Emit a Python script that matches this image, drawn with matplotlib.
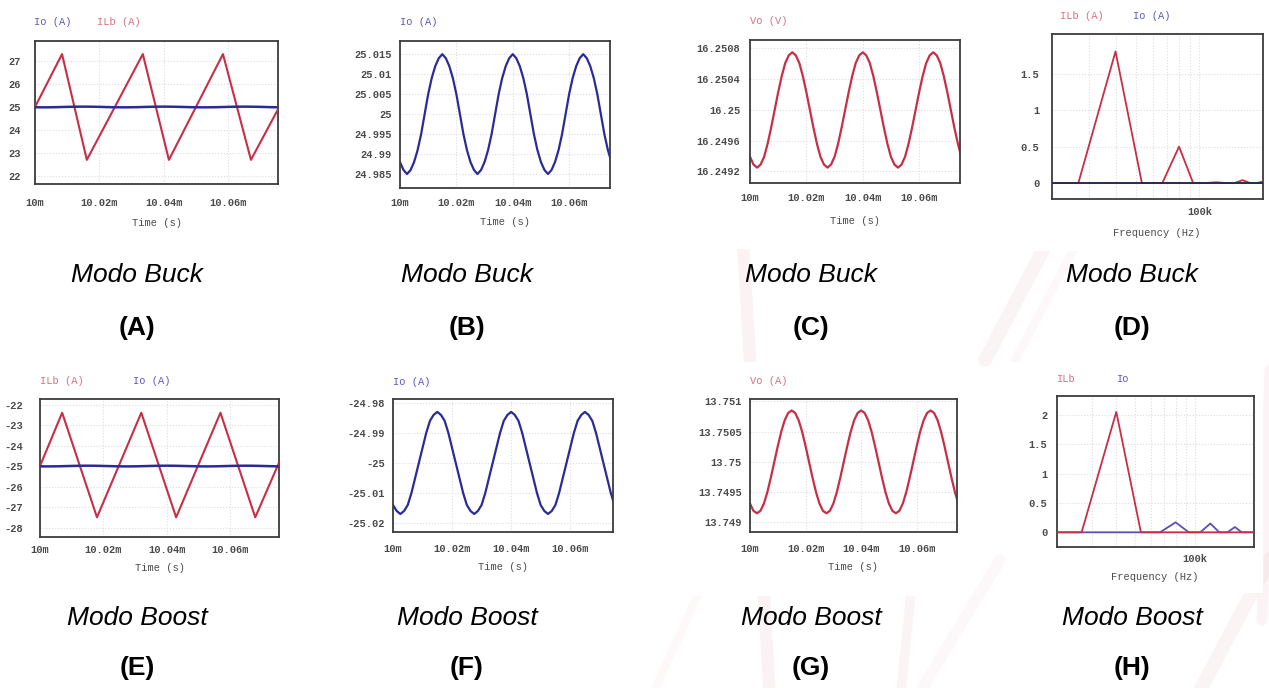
"""Buck/boost converter ripple waveforms and inductor-current spectra (8 scope panels)."""

import matplotlib
matplotlib.use("Agg")
import matplotlib.pyplot as plt
import numpy as np
from matplotlib.patches import Rectangle
from matplotlib.ticker import FixedLocator, NullFormatter

FIG_W, FIG_H = 1269, 688

RED = "#c62f45"
BLUE = "#2b2b98"
RED_TXT = "#d8707e"
BLUE_TXT = "#5a5ab8"
TICK_TXT = "#4a4a4a"
GRID = "#dcdce4"
MONO = "Liberation Mono"
SANS = "Liberation Sans"

# ---- time axis (ms) ----
TIME_TICKS = [10.00, 10.02, 10.04, 10.06]
TIME_LABELS = ["10m", "10.02m", "10.04m", "10.06m"]
t_ripple = np.round(np.linspace(10.0, 10.075, 61), 5)

# ---- buck mode ----
t_ilb_buck = [10.0, 10.0084, 10.0161, 10.0335, 10.0416, 10.0584, 10.0671, 10.0755]
ilb_buck = [25.0, 27.3, 22.7, 27.3, 22.7, 27.3, 22.7, 24.9]

io_buck = [
    24.988, 24.986, 24.985, 24.986, 24.988, 24.991, 24.995, 25.000, 25.005, 25.009,
    25.012, 25.014, 25.015, 25.014, 25.012, 25.009, 25.005, 25.000, 24.995, 24.991,
    24.988, 24.986, 24.985, 24.986, 24.988, 24.991, 24.995, 25.000, 25.005, 25.009,
    25.012, 25.014, 25.015, 25.014, 25.012, 25.009, 25.005, 25.000, 24.995, 24.991,
    24.988, 24.986, 24.985, 24.986, 24.988, 24.991, 24.995, 25.000, 25.005, 25.009,
    25.012, 25.014, 25.015, 25.014, 25.012, 25.009, 25.005, 25.000, 24.995, 24.991,
    24.988,
]

vo_buck = [
    16.24939, 16.24929, 16.24925, 16.24929, 16.24939, 16.24956, 16.24977, 16.25000, 16.25023, 16.25044,
    16.25061, 16.25071, 16.25075, 16.25071, 16.25061, 16.25044, 16.25023, 16.25000, 16.24977, 16.24956,
    16.24939, 16.24929, 16.24925, 16.24929, 16.24939, 16.24956, 16.24977, 16.25000, 16.25023, 16.25044,
    16.25061, 16.25071, 16.25075, 16.25071, 16.25061, 16.25044, 16.25023, 16.25000, 16.24977, 16.24956,
    16.24939, 16.24929, 16.24925, 16.24929, 16.24939, 16.24956, 16.24977, 16.25000, 16.25023, 16.25044,
    16.25061, 16.25071, 16.25075, 16.25071, 16.25061, 16.25044, 16.25023, 16.25000, 16.24977, 16.24956,
    16.24939,
]

# ---- boost mode ----
t_ilb_boost = [10.0, 10.007, 10.018, 10.032, 10.043, 10.057, 10.068, 10.0756]
ilb_boost = [-25.0, -22.4, -27.5, -22.4, -27.5, -22.4, -27.5, -24.8]

io_boost = [
    -25.014, -25.016, -25.017, -25.016, -25.014, -25.010, -25.005, -25.000, -24.995, -24.990,
    -24.986, -24.984, -24.983, -24.984, -24.986, -24.990, -24.995, -25.000, -25.005, -25.010,
    -25.014, -25.016, -25.017, -25.016, -25.014, -25.010, -25.005, -25.000, -24.995, -24.990,
    -24.986, -24.984, -24.983, -24.984, -24.986, -24.990, -24.995, -25.000, -25.005, -25.010,
    -25.014, -25.016, -25.017, -25.016, -25.014, -25.010, -25.005, -25.000, -24.995, -24.990,
    -24.986, -24.984, -24.983, -24.984, -24.986, -24.990, -24.995, -25.000, -25.005, -25.010,
    -25.014,
]

vo_boost = [
    13.74931, 13.74919, 13.74915, 13.74919, 13.74931, 13.74950, 13.74974, 13.75000, 13.75026, 13.75050,
    13.75069, 13.75081, 13.75085, 13.75081, 13.75069, 13.75050, 13.75026, 13.75000, 13.74974, 13.74950,
    13.74931, 13.74919, 13.74915, 13.74919, 13.74931, 13.74950, 13.74974, 13.75000, 13.75026, 13.75050,
    13.75069, 13.75081, 13.75085, 13.75081, 13.75069, 13.75050, 13.75026, 13.75000, 13.74974, 13.74950,
    13.74931, 13.74919, 13.74915, 13.74919, 13.74931, 13.74950, 13.74974, 13.75000, 13.75026, 13.75050,
    13.75069, 13.75081, 13.75085, 13.75081, 13.75069, 13.75050, 13.75026, 13.75000, 13.74974, 13.74950,
    13.74931,
]

# ---- FFT bins (Hz), 3-period window -> 13.33 kHz resolution ----
f_bins = [13.33e3, 26.67e3, 40.0e3, 53.33e3, 66.67e3, 80.0e3, 93.33e3, 106.67e3,
          120.0e3, 133.33e3, 146.67e3, 160.0e3, 173.33e3, 186.67e3, 200.0e3, 213.33e3]
fft_ilb_buck = [0, 0, 1.81, 0, 0, 0.50, 0, 0, 0.01, 0, 0, 0.04, 0, 0, 0.02, 0]
fft_io_buck = [0, 0, 0, 0, 0, 0, 0, 0, 0, 0, 0, 0, 0, 0, 0, 0]
fft_ilb_boost = [0, 0, 2.05, 0, 0, 0, 0, 0, 0, 0, 0, 0, 0, 0, 0, 0]
fft_io_boost = [0, 0, 0, 0, 0, 0.17, 0, 0, 0.15, 0, 0, 0.09, 0, 0, 0, 0]

# ---- tick sets ----
yt_ilb_buck = [22, 23, 24, 25, 26, 27]
yt_io_buck = [24.985, 24.99, 24.995, 25.0, 25.005, 25.01, 25.015]
yl_io_buck = ["24.985", "24.99", "24.995", "25", "25.005", "25.01", "25.015"]
yt_vo_buck = [16.2492, 16.2496, 16.25, 16.2504, 16.2508]
yl_vo_buck = ["16.2492", "16.2496", "16.25", "16.2504", "16.2508"]
yt_ilb_boost = [-28, -27, -26, -25, -24, -23, -22]
yt_io_boost = [-25.02, -25.01, -25.0, -24.99, -24.98]
yl_io_boost = ["-25.02", "-25.01", "-25", "-24.99", "-24.98"]
yt_vo_boost = [13.749, 13.7495, 13.75, 13.7505, 13.751]
yl_vo_boost = ["13.749", "13.7495", "13.75", "13.7505", "13.751"]
yt_fft_buck = [0, 0.5, 1, 1.5]
yl_fft_buck = ["0", "0.5", "1", "1.5"]
yt_fft_boost = [0, 0.5, 1, 1.5, 2]
yl_fft_boost = ["0", "0.5", "1", "1.5", "2"]

captions_top = ["Modo Buck"] * 4
captions_bottom = ["Modo Boost"] * 4
letters_top = ["(A)", "(B)", "(C)", "(D)"]
letters_bottom = ["(E)", "(F)", "(G)", "(H)"]


def fxy(x, y):
    return x / FIG_W, 1 - y / FIG_H


def scope(fig, box, xlim, ylim, yticks, ylabels, xpad, ypad, log=False):
    x0, y0, x1, y1 = box
    ax = fig.add_axes([x0 / FIG_W, 1 - y1 / FIG_H, (x1 - x0) / FIG_W, (y1 - y0) / FIG_H])
    ax.set_facecolor("white")
    for sp in ax.spines.values():
        sp.set_color("#3c3c3c")
        sp.set_linewidth(1.3)
    if log:
        ax.set_xscale("log")
        ax.xaxis.set_major_locator(FixedLocator([100e3]))
        ax.xaxis.set_minor_locator(FixedLocator([30e3, 40e3, 50e3, 60e3, 70e3, 80e3, 90e3, 200e3]))
        ax.xaxis.set_minor_formatter(NullFormatter())
        ax.set_xticklabels(["100k"])
    else:
        ax.set_xticks(TIME_TICKS)
        ax.set_xticklabels(TIME_LABELS)
    ax.set_xlim(*xlim)
    ax.set_ylim(*ylim)
    ax.set_yticks(yticks)
    ax.set_yticklabels(ylabels)
    ax.tick_params(axis="both", which="both", length=0, labelsize=7.5, colors=TICK_TXT,
                   labelfontfamily=MONO)
    ax.tick_params(axis="x", pad=xpad)
    ax.tick_params(axis="y", pad=ypad)
    for lab in ax.get_xticklabels() + ax.get_yticklabels():
        lab.set_fontweight("bold")
    ax.grid(True, which="both", color=GRID, linestyle=":", linewidth=0.8)
    ax.set_axisbelow(True)
    return ax


def header(fig, items):
    for text, x, y, color in items:
        fig.text(*fxy(x, y), text, color=color, fontsize=7.5, family=MONO,
                 ha="left", va="center")


def axis_title(fig, text, x, y):
    fig.text(*fxy(x, y), text, color=TICK_TXT, fontsize=7.5, family=MONO,
             ha="center", va="center")


fig = plt.figure(figsize=(FIG_W / 100, FIG_H / 100), dpi=100)
fig.patch.set_facecolor("white")

# faint logo strokes behind the page, covered by the white scope sheets
bg = fig.add_axes([0, 0, 1, 1], zorder=-10)
bg.set_xlim(0, FIG_W)
bg.set_ylim(FIG_H, 0)
bg.axis("off")
strokes = [
    (770, 700, 742, 225, 9, 0.12),
    (900, 700, 912, 585, 7, 0.10),
    (915, 700, 1000, 560, 8, 0.08),
    (985, 360, 1075, 190, 10, 0.10),
    (1015, 360, 1100, 200, 6, 0.08),
    (1195, 700, 1280, 540, 10, 0.10),
    (1235, 70, 1280, -10, 10, 0.11),
    (1262, 620, 1270, 370, 8, 0.11),
    (650, 700, 700, 590, 6, 0.06),
]
for xa, ya, xb, yb, lw, a in strokes:
    bg.plot([xa, xb], [ya, yb], color="#e09aa6", lw=lw, alpha=a, solid_capstyle="round")
for sx0, sy0, sx1, sy1 in [(665, 0, 972, 248), (1005, 0, 1269, 250),
                           (665, 362, 972, 595), (1008, 362, 1262, 592)]:
    bg.add_patch(Rectangle((sx0, sy0), sx1 - sx0, sy1 - sy0, color="white", zorder=2))

# (A) buck: inductor and output current
ax = scope(fig, (35, 41, 278, 184), (10.0, 10.0755), (21.65, 27.87),
           yt_ilb_buck, [str(v) for v in yt_ilb_buck], xpad=10, ypad=10)
ax.plot(t_ilb_buck, ilb_buck, color=RED, lw=1.5, zorder=3)
ax.plot(t_ripple, io_buck, color=BLUE, lw=1.8, zorder=4)
header(fig, [("Io (A)", 34, 22, BLUE_TXT), ("ILb (A)", 97, 22, RED_TXT)])
axis_title(fig, "Time (s)", 157, 223)

# (B) buck: output current ripple
ax = scope(fig, (400, 41, 610, 188), (10.0, 10.0745), (24.9815, 25.0183),
           yt_io_buck, yl_io_buck, xpad=7, ypad=6)
ax.plot(t_ripple, io_buck, color=BLUE, lw=1.6)
header(fig, [("Io (A)", 400, 22, BLUE_TXT)])
axis_title(fig, "Time (s)", 505, 222)

# (C) buck: output voltage ripple
ax = scope(fig, (750, 40, 960, 183), (10.0, 10.0745), (16.24905, 16.25091),
           yt_vo_buck, yl_vo_buck, xpad=7, ypad=7)
ax.plot(t_ripple, vo_buck, color=RED, lw=1.6)
header(fig, [("Vo (V)", 750, 21, RED_TXT)])
axis_title(fig, "Time (s)", 855, 221)

# (D) buck: spectra
ax = scope(fig, (1052, 34, 1263, 199), (20e3, 200e3), (-0.22, 2.05),
           yt_fft_buck, yl_fft_buck, xpad=6, ypad=9, log=True)
ax.plot(f_bins, fft_ilb_buck, color=RED, lw=1.3, zorder=3)
ax.plot(f_bins, fft_io_buck, color="#2a2a55", lw=1.4, zorder=4)
header(fig, [("ILb (A)", 1060, 16, RED_TXT), ("Io (A)", 1133, 16, BLUE_TXT)])
axis_title(fig, "Frequency (Hz)", 1157, 233)

# (E) boost: inductor and output current
ax = scope(fig, (40, 399, 279, 537), (10.0, 10.0755), (-28.46, -21.73),
           yt_ilb_boost, [str(v) for v in yt_ilb_boost], xpad=6, ypad=12)
ax.plot(t_ilb_boost, ilb_boost, color=RED, lw=1.5, zorder=3)
ax.plot(t_ripple, io_boost, color=BLUE, lw=1.8, zorder=4)
header(fig, [("ILb (A)", 40, 381, RED_TXT), ("Io (A)", 133, 381, BLUE_TXT)])
axis_title(fig, "Time (s)", 160, 568)

# (F) boost: output current ripple
ax = scope(fig, (393, 399, 613, 532), (10.0, 10.0745), (-25.023, -24.9787),
           yt_io_boost, yl_io_boost, xpad=9, ypad=6)
ax.plot(t_ripple, io_boost, color=BLUE, lw=1.6)
header(fig, [("Io (A)", 393, 382, BLUE_TXT)])
axis_title(fig, "Time (s)", 503, 567)

# (G) boost: output voltage ripple
ax = scope(fig, (750, 399, 957, 532), (10.0, 10.0745), (13.74884, 13.75104),
           yt_vo_boost, yl_vo_boost, xpad=9, ypad=6)
ax.plot(t_ripple, vo_boost, color=RED, lw=1.6)
header(fig, [("Vo (A)", 750, 381, RED_TXT)])
axis_title(fig, "Time (s)", 853, 567)

# (H) boost: spectra
ax = scope(fig, (1057, 396, 1254, 547), (20e3, 200e3), (-0.25, 2.32),
           yt_fft_boost, yl_fft_boost, xpad=5, ypad=7, log=True)
ax.plot(f_bins, fft_io_boost, color="#5a4fb8", lw=1.3, zorder=3)
ax.plot(f_bins, fft_ilb_boost, color=RED, lw=1.3, zorder=4)
header(fig, [("ILb", 1057, 379, RED_TXT), ("Io", 1117, 379, BLUE_TXT)])
axis_title(fig, "Frequency (Hz)", 1155, 577)

# captions under each panel
cx = [137, 467, 811, 1132]
for x, cap, let in zip(cx, captions_top, letters_top):
    fig.text(*fxy(x, 275), cap, fontsize=19, style="italic", family=SANS, ha="center", va="center")
    fig.text(*fxy(x, 328), let, fontsize=19, weight="bold", family=SANS, ha="center", va="center")
for x, cap, let in zip(cx, captions_bottom, letters_bottom):
    fig.text(*fxy(x, 618), cap, fontsize=19, style="italic", family=SANS, ha="center", va="center")
    fig.text(*fxy(x, 668), let, fontsize=19, weight="bold", family=SANS, ha="center", va="center")

fig.savefig("out.png", dpi=100, facecolor="white")
